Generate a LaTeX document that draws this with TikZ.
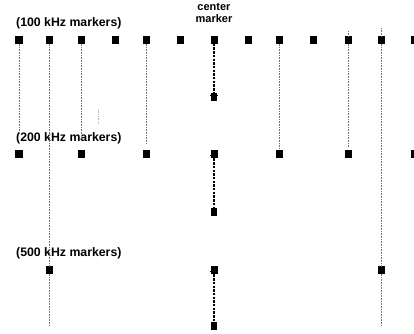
\documentclass[tikz,border=0pt]{standalone}
\usepackage{fontspec}
\setmainfont{Liberation Sans}
\begin{document}
\begin{tikzpicture}[x=1bp,y=-1bp,
  mk/.style={fill=black,draw=none,minimum width=7bp,minimum height=7.5bp,inner sep=0pt,outer sep=0pt},
  smk/.style={fill=black,draw=none,minimum width=5.5bp,minimum height=7.5bp,inner sep=0pt,outer sep=0pt},
  guide/.style={draw=black!55,line width=0.7bp,dash pattern=on 0.7bp off 0.9bp},
  faint/.style={draw=black!30,line width=0.6bp,dash pattern=on 0.7bp off 1bp},
  ctr/.style={draw=black,line width=1.2bp,dash pattern=on 2.4bp off 1.3bp},
  bar/.style={draw=black,line width=1.4bp},
  lbl/.style={font=\fontsize{12.3bp}{14bp}\selectfont\bfseries,inner sep=0pt,anchor=west}]
\useasboundingbox (0,0) rectangle (414,334);
% labels
\node[lbl] (l100) at (16,23) {(100 kHz markers)};
\node[lbl] (l200) at (16,138) {(200 kHz markers)};
\node[lbl] (l500) at (16,253) {(500 kHz markers)};
\node[font=\fontsize{11bp}{12.5bp}\selectfont\bfseries,align=center,inner sep=0pt] (cl) at (214,13) {center\\marker};
% row 1 (100 kHz)
\foreach \n/\x in {a/19,b/49,c/81,d/115,e/146,f/180,g/214,h/248,i/279,j/313,k/348,l/381,m/414}
  \node[mk] (r1\n) at (\x,40) {};
% row 2 (200 kHz)
\foreach \n/\x in {a/19,c/81,e/146,g/214,i/279,k/348,m/414}
  \node[mk] (r2\n) at (\x,154) {};
% row 3 (500 kHz)
\foreach \n/\x in {b/49,g/214,l/381}
  \node[mk] (r3\n) at (\x,270) {};
% bottom center markers
\node[smk] (c1) at (214,97) {};
\node[smk] (c2) at (214,212) {};
\node[smk] (c3) at (214,326) {};
% guide line end points
\coordinate (ea) at (19,134);
\coordinate (eb) at (49,325);
\coordinate (ec) at (81,140);
\coordinate (ee) at (146,144);
\coordinate (ei) at (279,148);
\coordinate (ek) at (348,147);
\coordinate (el) at (381,325);
\coordinate (sk) at (348,31);
\coordinate (sl) at (381,28);
\coordinate (fa) at (98,109);
\coordinate (fb) at (98,123);
\draw[guide] (r1a.south) -- (ea);
\draw[guide] (r1b.south) -- (r3b.north);
\draw[guide] (r3b.south) -- (eb);
\draw[guide] (r1c.south) -- (ec);
\draw[guide] (r1e.south) -- (ee);
\draw[guide] (r1i.south) -- (ei);
\draw[guide] (sk) -- (r1k.north);
\draw[guide] (r1k.south) -- (ek);
\draw[guide] (sl) -- (r1l.north);
\draw[guide] (r1l.south) -- (r3l.north);
\draw[guide] (r3l.south) -- (el);
\draw[faint] (fa) -- (fb);
% center dashed connectors
\draw[ctr] (r1g.south) -- ([yshift=-3bp]c1.north);
\draw[bar] ([xshift=-4bp,yshift=-2bp]c1.north) -- ([xshift=4bp,yshift=-2bp]c1.north);
\draw[bar] ([xshift=-4bp,yshift=2bp]r2g.south) -- ([xshift=4bp,yshift=2bp]r2g.south);
\draw[ctr] ([yshift=3bp]r2g.south) -- (c2.north);
\draw[bar] ([xshift=-4bp,yshift=2bp]r3g.south) -- ([xshift=4bp,yshift=2bp]r3g.south);
\draw[ctr] ([yshift=3bp]r3g.south) -- (c3.north);
\end{tikzpicture}
\end{document}
